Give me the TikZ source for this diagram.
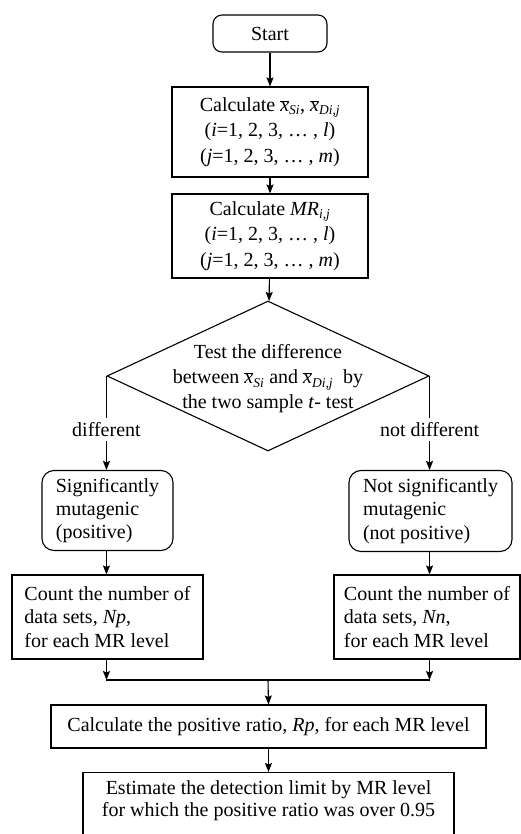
\documentclass[tikz,border=0pt]{standalone}
\usepackage{fontspec}
\setmainfont{Liberation Serif}
\usetikzlibrary{arrows.meta,positioning,shapes.geometric}
\newcommand\fluxofont{\fontsize{20}{23}\selectfont}
\newcommand\indfont{\fontsize{13.5}{13.5}\selectfont\itshape}
\newcommand\media[1]{$\overline{\mbox{\itshape x}}_{\mbox{\indfont #1}}$}
\tikzset{
  inicio/.style={draw, rounded corners=9pt, line width=1.1pt, align=center,
                font=\fluxofont, inner sep=2pt},
  etapa/.style={draw, line width=1.1pt, align=center, inner sep=3pt,
                font=\fontsize{20}{25.5}\selectfont},
  contagem/.style={draw, line width=1.1pt, align=left, inner sep=3pt,
                font=\fontsize{20}{23.3}\selectfont},
  resultado/.style={draw, rounded corners=12pt, line width=1.1pt, align=left,
                inner sep=3pt, font=\fontsize{20}{23.3}\selectfont},
  decisao/.style={draw, diamond, line width=1.1pt, inner sep=0pt},
  rotulo/.style={fill=white, font=\fluxofont, inner xsep=1pt, inner ysep=4pt},
  seta/.style={-{Stealth[length=9pt,width=7pt,inset=1.5pt]}, line width=1.1pt},
  linha/.style={line width=1.1pt},
}

\begin{document}
\begin{tikzpicture}[x=1pt,y=-1pt]
  \useasboundingbox (0,0) rectangle (520,834);

  % --- inicio e calculos ---------------------------------------------------
  \node[inicio,minimum width=114pt,minimum height=37pt] (start) at (270,33.5) {Start};
  \node[etapa,minimum width=196pt,minimum height=90pt] (calcx) at (270,132)
    {Calculate \media{Si}, \media{Di,j}\\(\textit{i}=1, 2, 3, \dots\ , \textit{l})\\(\textit{j}=1, 2, 3, \dots\ , \textit{m})};
  \node[etapa,minimum width=196pt,minimum height=84pt] (calcmr) at (270,236)
    {Calculate $\mbox{\itshape MR}_{\mbox{\indfont i,j}}$\\(\textit{i}=1, 2, 3, \dots\ , \textit{l})\\(\textit{j}=1, 2, 3, \dots\ , \textit{m})};

  % --- teste t -------------------------------------------------------------
  \node[decisao,minimum width=322pt,minimum height=150pt] (teste) at (268,376) {};
  \node[align=center,font=\fontsize{20}{25}\selectfont] (testetxt) at (268,379)
    {Test the difference\\between \media{Si} and \media{Di,j}\ \ by\\the two sample \textit{t}- test};

  % --- ramos ---------------------------------------------------------------
  \node[resultado,minimum width=131pt,minimum height=80pt] (pos) at (107.5,510.5)
    {Significantly\\mutagenic\\(positive)};
  \node[resultado,minimum width=163pt,minimum height=81pt] (neg) at (430.5,511)
    {Not significantly\\mutagenic\\(not positive)};
  \node[contagem,minimum width=191pt,minimum height=84pt] (countp) at (107.5,617)
    {Count the number of\\data sets, \textit{Np},\\for each MR level};
  \node[contagem,minimum width=186pt,minimum height=84pt] (countn) at (427,617)
    {Count the number of\\data sets, \textit{Nn},\\for each MR level};

  % --- razao e limite ------------------------------------------------------
  \coordinate (juncao) at (268,680);
  \node[etapa,minimum width=435pt,minimum height=43pt] (ratio) at (268.5,726.5)
    {Calculate the positive ratio, \textit{Rp}, for each MR level};
  \node[etapa,minimum width=371pt,anchor=north,inner ysep=8pt,text depth=22pt,
        font=\fontsize{20}{22}\selectfont] (limite) at (268.5,772)
    {Estimate the detection limit by MR level\\for which the positive ratio was over 0.95};

  \draw[seta] (start) -- (calcx);
  \draw[seta] (calcx) -- (calcmr);
  \draw[seta] (calcmr) -- (teste);

  \draw[seta] (teste.west) -- node[rotulo,pos=0.57]{different} (teste.west |- pos.north);
  \draw[seta] (teste.east) -- node[rotulo,pos=0.57]{not different} (teste.east |- neg.north);
  \draw[seta] (teste.west |- pos.south) -- (teste.west |- countp.north);
  \draw[seta] (teste.east |- neg.south) -- (teste.east |- countn.north);
  \draw[seta] (teste.west |- countp.south) -- (teste.west |- juncao);
  \draw[seta] (teste.east |- countn.south) -- (teste.east |- juncao);
  \draw[linha] (teste.west |- juncao) -- (teste.east |- juncao);
  \draw[seta] (juncao) -- (ratio.north);
  \draw[seta] (ratio) -- (limite);
\end{tikzpicture}
\end{document}
